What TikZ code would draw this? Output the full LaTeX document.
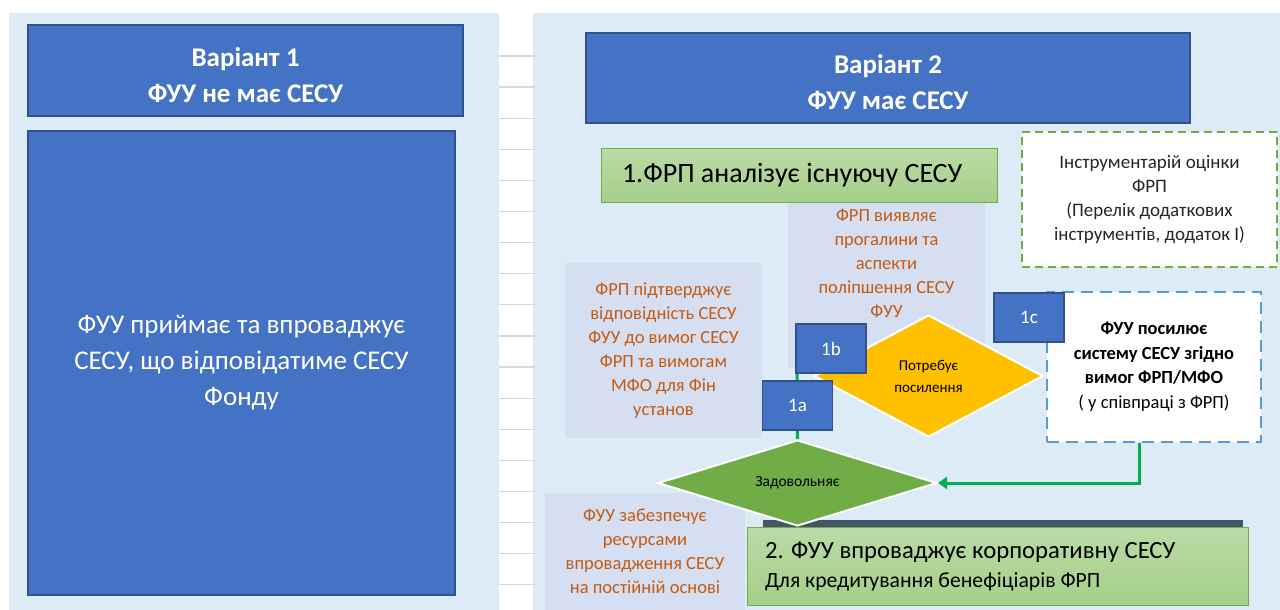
\documentclass[tikz,border=0pt]{standalone}
\usepackage{fontspec}
\setmainfont{Carlito}
\usetikzlibrary{shapes.geometric,arrows.meta}
\definecolor{panel}{HTML}{DDEBF7}
\definecolor{lilac}{HTML}{D6DFF1}
\definecolor{boxblue}{HTML}{4472C4}
\definecolor{edgeblue}{HTML}{2F528F}
\definecolor{leaf}{HTML}{70AD47}
\definecolor{leaflite}{HTML}{BADBA6}
\definecolor{leafmid}{HTML}{A5CF8A}
\definecolor{amber}{HTML}{FFC000}
\definecolor{rust}{HTML}{C55A11}
\definecolor{sky}{HTML}{5B9BD5}
\definecolor{flow}{HTML}{00B050}
\definecolor{slate}{HTML}{44546A}
\tikzset{
  hdr/.style={fill=boxblue, draw=edgeblue, line width=1.5pt, text=white, align=center, inner sep=0pt,
    font=\fontsize{27}{36}\selectfont},
  hdrtext/.style={text=white, align=center, inner sep=0pt, font=\bfseries\fontsize{27}{36}\selectfont},
  tag/.style={fill=boxblue, draw=edgeblue, line width=1.5pt, text=white, inner sep=0pt,
    minimum width=70pt, minimum height=49pt, font=\fontsize{19}{20}\selectfont},
  note/.style={fill=lilac, text=rust, align=center, inner sep=0pt, font=\fontsize{18.5}{24}\selectfont},
  stepbox/.style={draw=leaf, line width=1pt, top color=leaflite, bottom color=leafmid, inner sep=0pt, align=flush left},
  choice/.style={diamond, draw=white, line width=2pt, inner sep=0pt, align=center, font=\fontsize{15}{22}\selectfont},
  link/.style={draw=flow, line width=3pt},
}
\begin{document}
\begin{tikzpicture}[x=1pt,y=-1pt]
\useasboundingbox (0,0) rectangle (1280,610);
\fill[panel] (9,13) rectangle (499,610);
\fill[panel] (533,13) rectangle (1280,610);
\fill[white] (499,11) rectangle (533,610);
\foreach \k in {0,...,17}
    \draw[black!15, line width=1.2pt] (499,56+31.1*\k) -- (535,56+31.1*\k);

\node[hdr, minimum width=435pt, minimum height=91pt] (hdrA) at (245.5,70.5) {};
\node[hdrtext] (hdrAtxt) at ([yshift=-4.5pt]hdrA.center) {Варіант 1\\ФУУ не має СЕСУ};
\node[hdr, minimum width=427pt, minimum height=464pt] (bodyA) at (241.5,363)
    {ФУУ приймає та впроваджує\\СЕСУ, що відповідатиме СЕСУ\\Фонду};
\node[hdr, minimum width=604pt, minimum height=90pt] (hdrB) at (888,78) {};
\node[hdrtext] (hdrBtxt) at ([yshift=-4.5pt]hdrB.center) {Варіант 2\\ФУУ має СЕСУ};

\node[stepbox, minimum width=396pt, minimum height=54pt, text width=354pt, font=\fontsize{28}{30}\selectfont] (step1)
    at (799,175) {1.ФРП аналізує існуючу СЕСУ};
\node[draw=leaf, line width=2pt, dash pattern=on 8pt off 5pt, fill=white, text=black!85, align=center,
    minimum width=255pt, minimum height=135pt, font=\fontsize{19}{24}\selectfont] (tools) at (1149.5,199.5)
    {Інструментарій оцінки\\ФРП\\(Перелік додаткових\\інструментів, додаток І)};

\fill[lilac] (788,203) rectangle (985,368);
\node[note] (gaps) at (886.5,263) {ФРП виявляє\\прогалини та\\аспекти\\поліпшення СЕСУ\\ФУУ};
\node[note, minimum width=197pt, minimum height=175pt] (fits) at (663.5,350.5)
    {ФРП підтверджує\\відповідність СЕСУ\\ФУУ до вимог СЕСУ\\ФРП та вимогам\\МФО для Фін\\установ};
\node[note, minimum width=200pt, minimum height=117pt] (keep) at (645,551.5)
    {ФУУ забезпечує\\ресурсами\\впровадження СЕСУ\\на постійній основі};

\fill[slate] (763,520) rectangle (1243,527);
\node[stepbox, minimum width=501pt, minimum height=78pt, text width=465pt, font=\fontsize{21.7}{29}\selectfont] (step2)
    at (997.5,566) {{\fontsize{24.7}{29}\selectfont 2. ФУУ впроваджує корпоративну СЕСУ}\\Для кредитування бенефіціарів ФРП};

\node[draw=sky, line width=2pt, dash pattern=on 12pt off 7pt, fill=white, align=center,
    minimum width=214pt, minimum height=150pt, font=\fontsize{18.5}{24.5}\selectfont] (boost) at (1154,367)
    {\textbf{ФУУ посилює}\\\textbf{систему СЕСУ згідно}\\\textbf{вимог ФРП/МФО}\\( у співпраці з ФРП)};

\node[choice, fill=amber, aspect=1.88, minimum width=229pt, minimum height=122pt] (need) at (928.5,376) {Потребує\\посилення};
\node[choice, fill=leaf, aspect=3.24, minimum width=279pt, minimum height=86pt, font=\fontsize{15.5}{17}\selectfont] (meets)
    at (797.5,483) {Задовольняє};

\coordinate (bfoot) at (797,366);
\draw[link] (bfoot) -- (meets.north);
\foreach \n/\x/\y in {b/831/348.5, a/797.5/405.5, c/1029/317.5}
    \node[tag] (tag\n) at (\x,\y) {1\n};

\draw[link, -{Triangle[length=9pt,width=12pt]}] ([xshift=-15pt]boost.south) |- (meets.east);
\end{tikzpicture}
\end{document}
